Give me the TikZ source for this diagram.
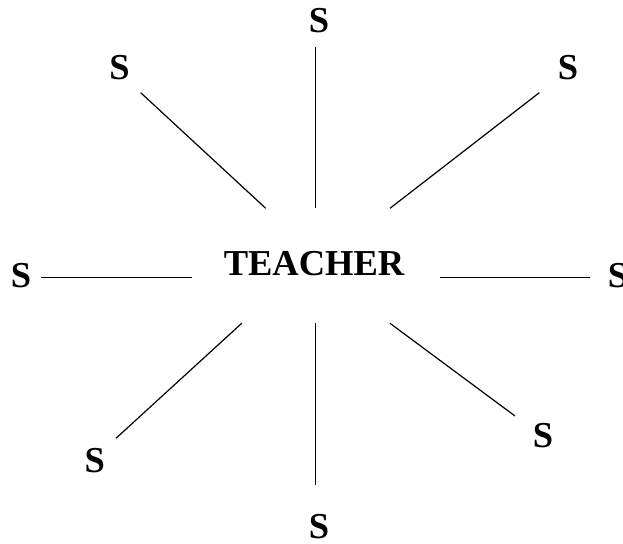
\documentclass[tikz,border=0pt]{standalone}
\usepackage{fontspec}
\setmainfont{Liberation Serif}
\begin{document}
\begin{tikzpicture}[x=1pt,y=-1pt,
  lbl/.style={inner sep=0pt,font=\fontsize{36.5}{42}\selectfont\bfseries},
  spoke/.style={draw=black,line width=1.2pt}]
\useasboundingbox (0,0) rectangle (623,543);
\node[lbl] (teacher) at (314,263.5) {TEACHER};
\node[lbl] (sT) at (319,21) {S};
\node[lbl] (sTL) at (119.5,67.5) {S};
\node[lbl] (sTR) at (568,67.5) {S};
\node[lbl] (sL) at (21,275.5) {S};
\node[lbl] (sR) at (618,275.5) {S};
\node[lbl] (sBL) at (94.7,460.5) {S};
\node[lbl] (sB) at (319,526.5) {S};
\node[lbl] (sBR) at (543,436) {S};
\coordinate (aT1) at (315.5,47);   \coordinate (aT2) at (315.5,208);
\coordinate (aTL1) at (140.7,92.7); \coordinate (aTL2) at (265.7,208.3);
\coordinate (aTR1) at (539.3,92.7); \coordinate (aTR2) at (390,208.3);
\coordinate (aL1) at (40.7,277.3); \coordinate (aL2) at (192.3,277.3);
\coordinate (aR1) at (440,277.3); \coordinate (aR2) at (590,277.3);
\coordinate (aBL1) at (116,438.3); \coordinate (aBL2) at (241.7,323.3);
\coordinate (aB1) at (315.7,323.3); \coordinate (aB2) at (315.7,485);
\coordinate (aBR1) at (390,323.3); \coordinate (aBR2) at (515,416);
\draw[spoke] (aT1) -- (aT2);
\draw[spoke] (aTL1) -- (aTL2);
\draw[spoke] (aTR1) -- (aTR2);
\draw[spoke] (aL1) -- (aL2);
\draw[spoke] (aR1) -- (aR2);
\draw[spoke] (aBL1) -- (aBL2);
\draw[spoke] (aB1) -- (aB2);
\draw[spoke] (aBR1) -- (aBR2);
\end{tikzpicture}
\end{document}
